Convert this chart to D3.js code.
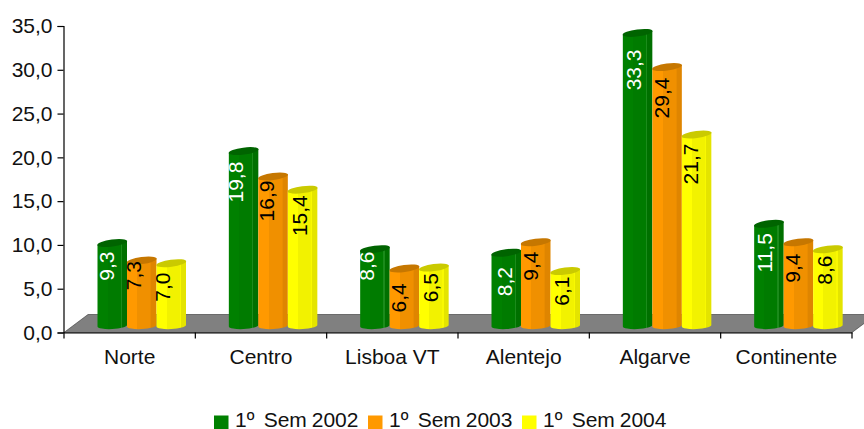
<!DOCTYPE html>
<html><head><meta charset="utf-8">
<script src="https://d3js.org/d3.v7.min.js"></script>
<style>html,body{margin:0;padding:0;background:#fff;overflow:hidden}svg{display:block}text{font-family:"Liberation Sans",Arial,sans-serif;fill:#111}</style>
</head><body><svg id="c" width="864" height="429"></svg>
<script>
const categories=["Norte","Centro","Lisboa VT","Alentejo","Algarve","Continente"];
const series=["1º Sem 2002","1º Sem 2003","1º Sem 2004"];
const sem2002=[9.3,19.8,8.6,8.2,33.3,11.5];
const sem2003=[7.3,16.9,6.4,9.4,29.4,9.4];
const sem2004=[7.0,15.4,6.5,6.1,21.7,8.6];
const yTicks=[0,5,10,15,20,25,30,35];
const seriesValues=[sem2002,sem2003,sem2004];

// hand-placed nudges of the data labels, as in the source chart
const labelNudgeX=[[-5.8,-8.6,-8,-1.8,-4.6,-4],[-8.7,-7,-6.4,-5.7,-6,-6.4],[-8.7,-3.5,-3.9,-4.2,-6.5,-3.9]];
const labelDrop=[[22,30,16,28,36,28],[14,23.5,28.5,23,30,25],[23,25,19,19,28.5,20]];

const fills=[
 {base:"#008000",mid:"#007b00",line:"#1b8b1b",dark:"#007000",top:"#006400",text:"#fff"},
 {base:"#ff9900",mid:"#f09000",line:"#e98c00",dark:"#df8500",top:"#c67700",text:"#000"},
 {base:"#ffff00",mid:"#f2f200",line:"#f9f900",dark:"#e4e400",top:"#caca00",text:"#000"}];
const svg=d3.select("#c");
const x=d3.scaleBand().domain(categories).range([64,852]);
const y=d3.scaleLinear().domain([0,35]).range([332.5,26]);
const depthX=24,depthY=18;
const barBase=-7;
const barW=29.5;
const sub=d3.scaleBand().domain(d3.range(3)).range([33.5,33.5+barW*3]);

svg.append("polygon").attr("fill","#808080").attr("stroke","#333").attr("stroke-width",.6)
 .attr("points",[[x.range()[0],y(0)],[x.range()[1],y(0)],[x.range()[1]+depthX,y(0)-depthY],[x.range()[0]+depthX,y(0)-depthY]].join(" "));

const defs=svg.append("defs");
fills.forEach((f,i)=>{
 const g=defs.append("linearGradient").attr("id","g"+i);
 [[0,f.base],[.35,f.base],[.35,f.mid],[.79,f.mid],[.79,f.line],[.83,f.line],[.83,f.dark],[1,f.dark]]
  .forEach(s=>g.append("stop").attr("offset",s[0]).attr("stop-color",s[1]));
});

seriesValues.forEach((vals,si)=>{
 const g=svg.append("g");
 vals.forEach((v,ci)=>{
  const x0=x(categories[ci])+sub(si), w=sub.bandwidth();
  const yb=y(0)+barBase, yt=y(v)+barBase;
  const rx=w/2;
  g.append("path").attr("fill",`url(#g${si})`)
   .attr("d",`M${x0},${yt+1}L${x0},${yb+1}A${rx},3.3 -3 0 0 ${x0+w},${yb-.5}L${x0+w},${yt-3}Z`);
  g.append("ellipse").attr("cx",x0+w/2).attr("cy",yt-1).attr("rx",rx+.3).attr("ry",3.5)
   .attr("transform",`rotate(-7.5 ${x0+w/2} ${yt-1})`).attr("fill",fills[si].top);
 });
});

const fmt=v=>v.toFixed(1).replace(".",",");
seriesValues.forEach((vals,si)=>{
 vals.forEach((v,ci)=>{
  const cx=x(categories[ci])+sub(si)+sub.bandwidth()/2+labelNudgeX[si][ci];
  const cy=y(v)+barBase+labelDrop[si][ci];
  svg.append("text").attr("transform",`translate(${cx},${cy}) rotate(-90)`)
   .attr("text-anchor","middle").attr("dy",".36em").attr("font-size",21)
   .style("fill",fills[si].text).text(fmt(v));
 });
});

const ya=d3.axisLeft(y).tickValues(yTicks).tickSize(6).tickPadding(5).tickFormat(fmt);
const yg=svg.append("g").attr("transform","translate(63.5,0)").call(ya);
const xa=d3.axisBottom(x).tickValues([]).tickSizeOuter(0);
const xg=svg.append("g").attr("transform",`translate(0,${y(0)})`).call(xa);
const boundaries=categories.map(c=>x(c)).concat([x.range()[1]]);
xg.selectAll("line.b").data(boundaries).join("line").attr("class","b")
  .attr("x1",d=>d).attr("x2",d=>d).attr("y1",0).attr("y2",6).attr("stroke","#000").attr("stroke-width",1.2);
svg.selectAll(".domain").attr("stroke","#000").attr("stroke-width",1.2);
yg.selectAll("line").attr("stroke","#000").attr("stroke-width",1.2);
yg.selectAll("text").attr("font-size",21).style("fill","#111");
svg.selectAll(".cat").data(categories).join("text").attr("class","cat")
  .attr("x",d=>x(d)+x.bandwidth()/2).attr("y",364).attr("text-anchor","middle").attr("font-size",21).text(d=>d);

const legX=[214,368,522];
series.forEach((s,i)=>{
 svg.append("rect").attr("x",legX[i]).attr("y",415.5).attr("width",14.5).attr("height",13.5).attr("fill",fills[i].base);
 const [a,b,c]=s.split(" ");
 const t=svg.append("text").attr("x",legX[i]+21).attr("y",427).attr("font-size",21);
 t.append("tspan").text(a+" ");
 t.append("tspan").attr("dx",3.5).text(b+" ");
 t.append("tspan").attr("dx",-1).text(c);
});
</script></body></html>
